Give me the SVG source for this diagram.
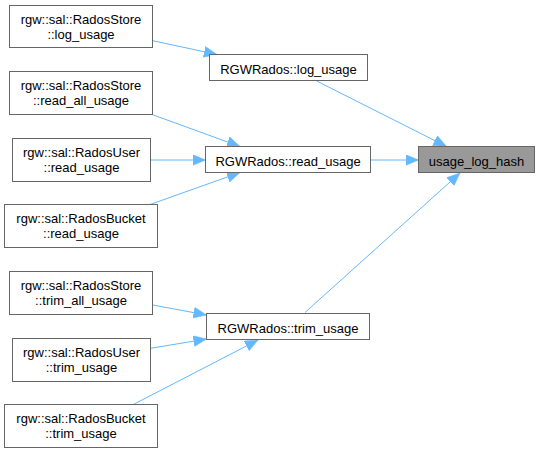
<svg xmlns="http://www.w3.org/2000/svg" width="540" height="453" viewBox="0 0 540 453">
<style>
.box{fill:#ffffff;stroke:#666666;stroke-width:1}
.hl{fill:#999999;stroke:#666666;stroke-width:1}
text{font-family:"Liberation Sans",Arial,sans-serif;font-size:13px;fill:#000000;text-anchor:middle}
.edge{fill:none;stroke:#63b8ff;stroke-width:1;marker-end:url(#ah)}
</style>
<defs>
<marker id="ah" markerUnits="userSpaceOnUse" markerWidth="14" markerHeight="12" refX="13" refY="5.5" orient="auto">
<path d="M0,0 L13,5.5 L0,11 z" fill="#63b8ff" stroke="#63b8ff" stroke-width="0.5"/>
</marker>
</defs>
<rect width="540" height="453" fill="#ffffff"/>
<g id="connectors">
<path class="edge" d="M152.7,40.7 L217,54.5"/>
<path class="edge" d="M316.7,81 L446.5,146.5"/>
<path class="edge" d="M152,114.5 L240,146.5"/>
<path class="edge" d="M150.7,160 L205.5,160"/>
<path class="edge" d="M150,204.5 L240,172.5"/>
<path class="edge" d="M371,160 L418.5,160"/>
<path class="edge" d="M305,312.5 L460,173"/>
<path class="edge" d="M152.7,305 L206.5,315"/>
<path class="edge" d="M150.7,348.3 L206.5,339"/>
<path class="edge" d="M133.3,404.5 L258,340"/>
</g>
<g id="usage_log_hash">
<rect class="hl" x="418.5" y="146.5" width="116" height="26"/>
<text x="476.5" y="165.5">usage_log_hash</text>
</g>
<g id="RGWRados_log_usage">
<rect class="box" x="209.5" y="54.5" width="158" height="26"/>
<text x="288.5" y="73.5">RGWRados::log_usage</text>
</g>
<g id="RGWRados_read_usage">
<rect class="box" x="205.5" y="146.5" width="165" height="26"/>
<text x="288" y="165.5">RGWRados::read_usage</text>
</g>
<g id="RGWRados_trim_usage">
<rect class="box" x="206.5" y="313.5" width="163" height="26"/>
<text x="288" y="332.5">RGWRados::trim_usage</text>
</g>
<g id="RadosStore_log_usage">
<rect class="box" x="9.5" y="5.5" width="143" height="42"/>
<text x="81" y="24">rgw::sal::RadosStore</text>
<text x="81" y="38.5">::log_usage</text>
</g>
<g id="RadosStore_read_all_usage">
<rect class="box" x="9.5" y="71.5" width="143" height="43"/>
<text x="81" y="90">rgw::sal::RadosStore</text>
<text x="81" y="104.5">::read_all_usage</text>
</g>
<g id="RadosUser_read_usage">
<rect class="box" x="12.5" y="138.5" width="138" height="43"/>
<text x="81.5" y="157">rgw::sal::RadosUser</text>
<text x="81.5" y="171.5">::read_usage</text>
</g>
<g id="RadosBucket_read_usage">
<rect class="box" x="4.5" y="204.5" width="153" height="43"/>
<text x="81" y="223">rgw::sal::RadosBucket</text>
<text x="81" y="237.5">::read_usage</text>
</g>
<g id="RadosStore_trim_all_usage">
<rect class="box" x="9.5" y="271.5" width="143" height="43"/>
<text x="81" y="290">rgw::sal::RadosStore</text>
<text x="81" y="304.5">::trim_all_usage</text>
</g>
<g id="RadosUser_trim_usage">
<rect class="box" x="12.5" y="338.5" width="138" height="43"/>
<text x="81.5" y="357">rgw::sal::RadosUser</text>
<text x="81.5" y="371.5">::trim_usage</text>
</g>
<g id="RadosBucket_trim_usage">
<rect class="box" x="4.5" y="404.5" width="153" height="43"/>
<text x="81" y="423">rgw::sal::RadosBucket</text>
<text x="81" y="437.5">::trim_usage</text>
</g>
</svg>
